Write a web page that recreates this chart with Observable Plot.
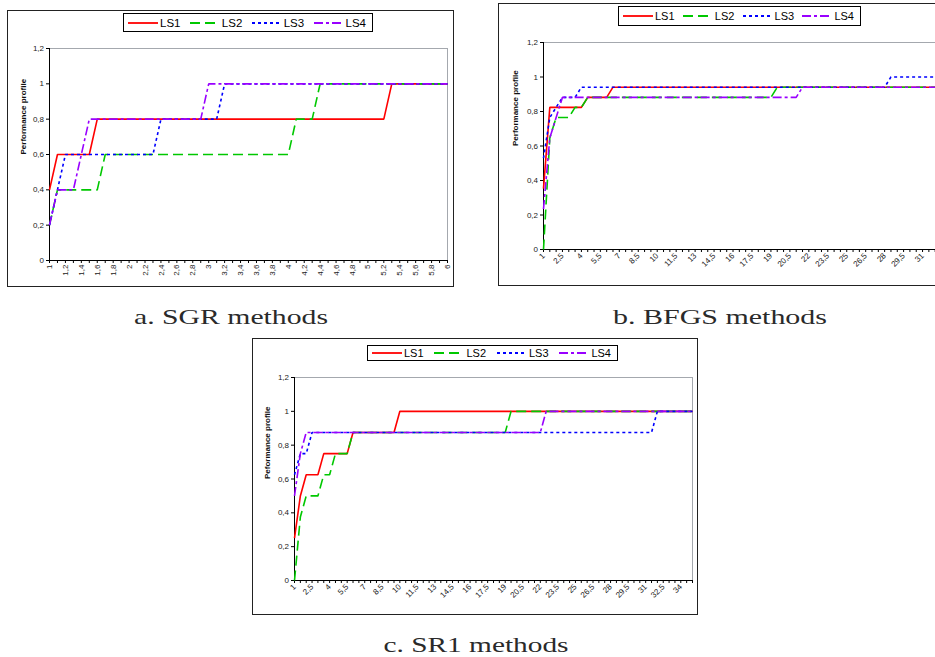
<!DOCTYPE html>
<html>
<head>
<meta charset="utf-8">
<script src="https://cdn.jsdelivr.net/npm/d3@7"></script>
<script src="https://cdn.jsdelivr.net/npm/@observablehq/plot@0.6"></script>
<style>
  html, body { margin: 0; padding: 0; background: #fff; width: 935px; height: 657px; overflow: hidden; }
  #root { position: relative; width: 935px; height: 657px; overflow: hidden; }
  .frame { position: absolute; border: 1.5px solid #222; box-sizing: border-box; }
  .chart { position: absolute; }
  .chart svg { overflow: visible; }
  .legend { position: absolute; box-sizing: border-box; border: 1.3px solid #000; background: #fff;
            display: flex; align-items: center; justify-content: space-between; padding: 0 6px 0 4px;
            font-family: "Liberation Sans", Arial, sans-serif; color: #000; }
  .legend .item { display: flex; align-items: center; }
  .legend svg { display: block; margin-right: 2px; }
  #captions { position: absolute; left: 0; top: 0; }
</style>
</head>
<body>
<div id="root"></div>
<script>
// ---------- shared ----------
const seriesNames = ["LS1", "LS2", "LS3", "LS4"];
const seriesColors = ["#ff0000", "#00c800", "#0000ff", "#9900ff"];
const seriesDashes = [null, "10,5", "3,3", "9,3,3,3"];
const yTicks = [0, 0.2, 0.4, 0.6, 0.8, 1, 1.2];

function catRange(start, stop, step) {
  const n = Math.round((stop - start) / step);
  return Array.from({length: n + 1}, (_, i) => +(start + i * step).toFixed(2));
}

// ---------- a. SGR methods ----------
const sgrCategories = catRange(1, 6, 0.1);
const sgrTickLabels = [1, 1.2, 1.4, 1.6, 1.8, 2, 2.2, 2.4, 2.6, 2.8, 3, 3.2, 3.4, 3.6, 3.8, 4, 4.2, 4.4, 4.6, 4.8, 5, 5.2, 5.4, 5.6, 5.8, 6];
const sgrLS1 = [[1, 0.4], [1.1, 0.6], [1.5, 0.6], [1.6, 0.8], [5.2, 0.8], [5.3, 1], [6, 1]];
const sgrLS2 = [[1, 0.2], [1.1, 0.4], [1.6, 0.4], [1.7, 0.6], [4.0, 0.6], [4.1, 0.8], [4.3, 0.8], [4.4, 1], [6, 1]];
const sgrLS3 = [[1, 0.2], [1.1, 0.4], [1.2, 0.6], [2.3, 0.6], [2.4, 0.8], [3.1, 0.8], [3.2, 1], [6, 1]];
const sgrLS4 = [[1, 0.2], [1.1, 0.4], [1.3, 0.4], [1.4, 0.6], [1.5, 0.8], [2.9, 0.8], [3.0, 1], [6, 1]];

// ---------- b. BFGS methods ----------
const bfgsCategories = catRange(1, 32.5, 0.5);
const bfgsTickLabels = [1, 2.5, 4, 5.5, 7, 8.5, 10, 11.5, 13, 14.5, 16, 17.5, 19, 20.5, 22, 23.5, 25, 26.5, 28, 29.5, 31];
const bfgsLS1 = [[1, 0.353], [1.5, 0.824], [4, 0.824], [4.5, 0.882], [6, 0.882], [6.5, 0.941], [32.5, 0.941]];
const bfgsLS2 = [[1, 0], [1.5, 0.647], [2, 0.765], [3, 0.765], [3.5, 0.824], [4, 0.824], [4.5, 0.882], [19, 0.882], [19.5, 0.941], [32.5, 0.941]];
const bfgsLS3 = [[1, 0.529], [1.5, 0.765], [2, 0.824], [2.5, 0.882], [3.5, 0.882], [4, 0.941], [28, 0.941], [28.5, 1], [32.5, 1]];
const bfgsLS4 = [[1, 0.235], [1.5, 0.647], [2, 0.765], [2.5, 0.882], [21, 0.882], [21.5, 0.941], [32.5, 0.941]];

// ---------- c. SR1 methods ----------
const sr1Categories = catRange(1, 35, 0.5);
const sr1TickLabels = [1, 2.5, 4, 5.5, 7, 8.5, 10, 11.5, 13, 14.5, 16, 17.5, 19, 20.5, 22, 23.5, 25, 26.5, 28, 29.5, 31, 32.5, 34];
const sr1LS1 = [[1, 0.25], [1.5, 0.5], [2, 0.625], [3, 0.625], [3.5, 0.75], [5.5, 0.75], [6, 0.875], [9.5, 0.875], [10, 1], [35, 1]];
const sr1LS2 = [[1, 0], [1.5, 0.375], [2, 0.5], [3, 0.5], [3.5, 0.625], [4, 0.625], [4.5, 0.75], [5.5, 0.75], [6, 0.875], [19, 0.875], [19.5, 1], [35, 1]];
const sr1LS3 = [[1, 0.625], [1.5, 0.75], [2, 0.75], [2.5, 0.875], [31.5, 0.875], [32, 1], [35, 1]];
const sr1LS4 = [[1, 0.5], [1.5, 0.75], [2, 0.875], [22, 0.875], [22.5, 1], [35, 1]];

const captions = ["a. SGR methods", "b. BFGS methods", "c. SR1 methods"];

// ---------- helpers ----------
const comma = d => String(d).replace(".", ",");
const root = document.getElementById("root");

function makePanel(cfg) {
  const {frame, plot, domainX, cats, labels, rotate, pad, data, ylabel, ylOff, legend} = cfg;
  const fr = document.createElement("div");
  fr.className = "frame";
  Object.assign(fr.style, {left: frame.x + "px", top: frame.y + "px", width: frame.w + "px", height: frame.h + "px"});
  root.appendChild(fr);

  const mL = plot.x - frame.x, mT = plot.y - frame.y;
  const mR = frame.x + frame.w - (plot.x + plot.w), mB = frame.y + frame.h - (plot.y + plot.h);
  const chart = Plot.plot({
    width: frame.w, height: frame.h,
    marginLeft: mL, marginTop: mT, marginRight: mR, marginBottom: mB,
    x: {domain: domainX, label: null},
    y: {domain: [0, 1.2], label: null},
    style: {fontFamily: "'Liberation Sans', Arial, sans-serif", fontSize: "8px", background: "transparent", overflow: "visible"},
    marks: [
      Plot.frame({stroke: "#a4a8ae", strokeWidth: 1}),
      Plot.axisY(yTicks, {tickSize: 3, tickPadding: 2.5, tickFormat: comma, fontSize: 8, fill: "#222", label: null}),
      Plot.axisX(cats, {tickSize: 3, tickFormat: () => "", label: null}),
      Plot.axisX(labels, {tickSize: 0, tickPadding: pad, tickRotate: rotate, tickFormat: comma, fontSize: 8, fill: "#222", label: null}),
      Plot.ruleX([domainX[0]], {stroke: "#000", strokeWidth: 1}),
      Plot.ruleY([0], {stroke: "#000", strokeWidth: 1}),
      Plot.text([ylabel], {text: d => d, frameAnchor: "left", rotate: -90, dx: -ylOff, fontWeight: "bold", fontSize: 8, fill: "#111"}),
      ...data.map((d, i) => Plot.line(d, {
        x: p => p[0], y: p => p[1],
        stroke: seriesColors[i], strokeWidth: 1.6,
        strokeDasharray: seriesDashes[i] || undefined,
        strokeLinejoin: "miter", strokeLinecap: "butt"
      }))
    ]
  });
  const box = document.createElement("div");
  box.className = "chart";
  Object.assign(box.style, {left: frame.x + "px", top: frame.y + "px", width: frame.w + "px", height: frame.h + "px"});
  box.appendChild(chart);
  root.appendChild(box);

  // legend
  const lg = document.createElement("div");
  lg.className = "legend";
  Object.assign(lg.style, {left: (legend.cx - legend.w / 2) + "px", top: legend.top + "px",
    width: legend.w + "px", height: legend.h + "px", fontSize: legend.fs + "px"});
  seriesNames.forEach((name, i) => {
    const item = document.createElement("div");
    item.className = "item";
    const dash = seriesDashes[i] ? `stroke-dasharray="${seriesDashes[i]}"` : "";
    item.innerHTML = `<svg width="30" height="6"><line x1="0" x2="30" y1="3" y2="3" stroke="${seriesColors[i]}" stroke-width="1.8" ${dash}/></svg><span>${name}</span>`;
    lg.appendChild(item);
  });
  root.appendChild(lg);
}

makePanel({
  frame: {x: 7, y: 10, w: 447, h: 277},
  plot: {x: 49, y: 48, w: 398, h: 212},
  domainX: [1, 6], cats: sgrCategories, labels: sgrTickLabels, rotate: -90, pad: 4,
  data: [sgrLS1, sgrLS2, sgrLS3, sgrLS4], ylabel: "Performance profile", ylOff: 26,
  legend: {cx: 248, top: 13, w: 250, h: 19, fs: 11.5}
});
makePanel({
  frame: {x: 498, y: 3, w: 450, h: 283},
  plot: {x: 543, y: 42, w: 398, h: 207},
  domainX: [1, 32.5], cats: bfgsCategories, labels: bfgsTickLabels, rotate: -45, pad: 5,
  data: [bfgsLS1, bfgsLS2, bfgsLS3, bfgsLS4], ylabel: "Performance profile", ylOff: 28,
  legend: {cx: 739.5, top: 6, w: 243, h: 20, fs: 11}
});
makePanel({
  frame: {x: 252, y: 338, w: 446, h: 277},
  plot: {x: 294, y: 377, w: 398, h: 203},
  domainX: [1, 35], cats: sr1Categories, labels: sr1TickLabels, rotate: -45, pad: 5,
  data: [sr1LS1, sr1LS2, sr1LS3, sr1LS4], ylabel: "Peformance profile", ylOff: 27,
  legend: {cx: 492.5, top: 345, w: 251, h: 16, fs: 11}
});

// captions
const capPos = [{cx: 231, y: 324, w: 194}, {cx: 720, y: 324, w: 214}, {cx: 476, y: 652, w: 185}];
const ns = "http://www.w3.org/2000/svg";
const capSvg = document.createElementNS(ns, "svg");
capSvg.setAttribute("id", "captions");
capSvg.setAttribute("width", 935);
capSvg.setAttribute("height", 657);
captions.forEach((t, i) => {
  const p = capPos[i];
  const tx = document.createElementNS(ns, "text");
  tx.setAttribute("x", p.cx - p.w / 2);
  tx.setAttribute("y", p.y);
  tx.setAttribute("textLength", p.w);
  tx.setAttribute("lengthAdjust", "spacingAndGlyphs");
  tx.setAttribute("font-family", "'Liberation Serif', 'Times New Roman', serif");
  tx.setAttribute("font-size", 21.5);
  tx.setAttribute("fill", "#2a2a2a");
  tx.textContent = t;
  capSvg.appendChild(tx);
});
root.appendChild(capSvg);
</script>
</body>
</html>
